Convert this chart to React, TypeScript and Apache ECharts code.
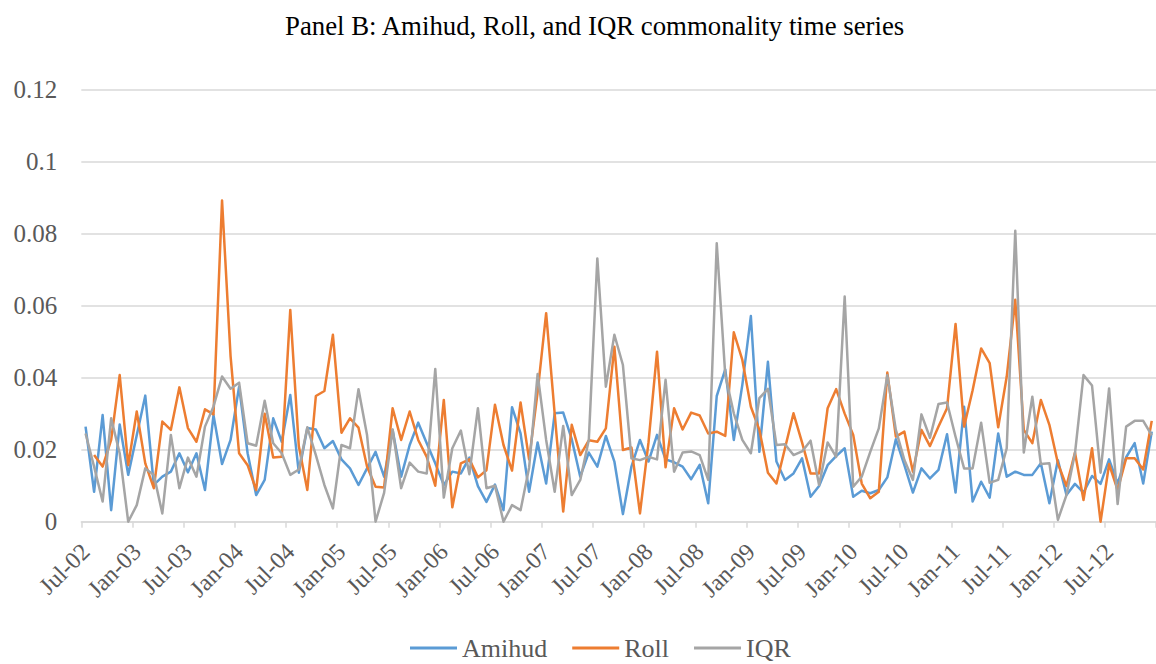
import React, { useEffect, useRef } from "react";
import * as echarts from "echarts";

const monthNames = ["Jan", "Feb", "Mar", "Apr", "May", "Jun", "Jul", "Aug", "Sep", "Oct", "Nov", "Dec"];
const categories: string[] = [];
for (let k = 0; k < 126; k++) {
  const m = (6 + k) % 12;
  const y = 2 + Math.floor((6 + k) / 12);
  categories.push(`${monthNames[m]}-${String(y).padStart(2, "0")}`);
}

const amihud = [
  0.0264, 0.0083, 0.0296, 0.0032, 0.027, 0.013, 0.024, 0.035, 0.0102, 0.0125, 0.0139, 0.019,
  0.0137, 0.019, 0.0088, 0.0296, 0.016, 0.0227, 0.0375, 0.019, 0.0074, 0.0116, 0.0287, 0.0222,
  0.0352, 0.0136, 0.026, 0.0256, 0.0204, 0.0224, 0.0173, 0.0148, 0.0102, 0.0148, 0.0194, 0.0125,
  0.0255, 0.0125, 0.0213, 0.0275, 0.0218, 0.0162, 0.0102, 0.0139, 0.0134, 0.0178, 0.0099, 0.0055,
  0.0103, 0.0032, 0.0318, 0.0245, 0.0083, 0.022, 0.0106, 0.0301, 0.0303, 0.0229, 0.0125, 0.0192,
  0.0153, 0.0238, 0.0167, 0.0021, 0.0153, 0.0227, 0.0167, 0.0241, 0.0173, 0.0165, 0.0153, 0.0118,
  0.0158, 0.0051, 0.0349, 0.0423, 0.0227, 0.038, 0.0571, 0.0194, 0.0444, 0.0167, 0.0116, 0.0134,
  0.0176, 0.0069, 0.0099, 0.0157, 0.0182, 0.0204, 0.0069, 0.0086, 0.0079, 0.0088, 0.0123, 0.0229,
  0.0157, 0.0081, 0.0148, 0.012, 0.0144, 0.0243, 0.0081, 0.0319, 0.0056, 0.0111, 0.0067, 0.0245,
  0.0125, 0.0139, 0.013, 0.013, 0.0162, 0.0051, 0.0171, 0.0074, 0.0105, 0.0081, 0.0127, 0.0105,
  0.0173, 0.0106, 0.0179, 0.0218, 0.0106, 0.025,
];

const roll: (number | null)[] = [
  null, 0.0185, 0.0153, 0.0227, 0.0407, 0.0157, 0.0306, 0.0162, 0.0093, 0.0278, 0.0255, 0.0373,
  0.026, 0.0222, 0.0312, 0.0298, 0.0892, 0.046, 0.019, 0.0157, 0.0088, 0.03, 0.0178, 0.018,
  0.0588, 0.021, 0.0088, 0.0349, 0.0363, 0.0519, 0.0247, 0.0287, 0.0261, 0.0153, 0.0097, 0.0095,
  0.0315, 0.0227, 0.0306, 0.0227, 0.018, 0.01, 0.0338, 0.004, 0.0162, 0.0173, 0.0123, 0.0143,
  0.0325, 0.0213, 0.0142, 0.0331, 0.0173, 0.036, 0.0579, 0.03, 0.0028, 0.0269, 0.0185, 0.0226,
  0.0222, 0.0259, 0.0486, 0.0199, 0.0206, 0.0023, 0.022, 0.0472, 0.0151, 0.0315, 0.0256, 0.0303,
  0.0295, 0.0245, 0.025, 0.0238, 0.0526, 0.0449, 0.0319, 0.0255, 0.0136, 0.0106, 0.0204, 0.0301,
  0.022, 0.0134, 0.0134, 0.0315, 0.0368, 0.03, 0.0241, 0.0106, 0.0065, 0.0083, 0.0414, 0.0236,
  0.025, 0.0139, 0.0255, 0.021, 0.0264, 0.0315, 0.0549, 0.0264, 0.0365, 0.0481, 0.044, 0.0262,
  0.0403, 0.0616, 0.0255, 0.0218, 0.0338, 0.0269, 0.0162, 0.0099, 0.0192, 0.006, 0.0204, 0.0,
  0.016, 0.0088, 0.0176, 0.0176, 0.0145, 0.028,
];

const iqr = [
  0.0245, 0.0153, 0.0056, 0.0287, 0.019, 0.0, 0.0046, 0.0148, 0.013, 0.0023, 0.0241, 0.0093,
  0.0178, 0.0125, 0.0264, 0.032, 0.0403, 0.0369, 0.0386, 0.0218, 0.0211, 0.0336, 0.0218, 0.019,
  0.013, 0.0145, 0.0262, 0.0185, 0.0102, 0.0037, 0.0213, 0.0204, 0.0368, 0.0241, 0.0, 0.008,
  0.0256, 0.0093, 0.0164, 0.0139, 0.0134, 0.0424, 0.0067, 0.0204, 0.0253, 0.0132, 0.0315, 0.0093,
  0.01, 0.0, 0.0046, 0.0032, 0.015, 0.041, 0.0227, 0.0083, 0.0266, 0.0074, 0.0116, 0.0227,
  0.0731, 0.0375, 0.0519, 0.0435, 0.0176, 0.0171, 0.018, 0.0173, 0.0394, 0.0139, 0.0192, 0.0195,
  0.0185, 0.0116, 0.0773, 0.0407, 0.0301, 0.0227, 0.019, 0.0343, 0.0369, 0.0213, 0.0215, 0.0185,
  0.0195, 0.0225, 0.0102, 0.022, 0.018, 0.0625, 0.0097, 0.0125, 0.0194, 0.0259, 0.0407, 0.0255,
  0.0171, 0.0116, 0.0298, 0.0233, 0.0327, 0.0331, 0.0236, 0.0148, 0.0148, 0.0275, 0.0108, 0.0116,
  0.0204, 0.0808, 0.0192, 0.0347, 0.016, 0.0162, 0.0005, 0.0074, 0.019, 0.0407, 0.0378, 0.0136,
  0.037, 0.0049, 0.0264, 0.028, 0.028, 0.024,
];

const yTicks = [0, 0.02, 0.04, 0.06, 0.08, 0.1, 0.12];

const FONT = "'Liberation Serif', 'Times New Roman', serif";
const GREY = "#595959";

export default function App() {
  const ref = useRef<HTMLDivElement>(null);
  useEffect(() => {
    if (!ref.current) return;
    const chart = echarts.init(ref.current, undefined, { renderer: "svg" });
    const mk = (name: string, data: (number | null)[], color: string) => ({
      name,
      type: "line",
      data,
      symbol: "none",
      showSymbol: false,
      connectNulls: false,
      lineStyle: { color, width: 2.5, join: "round" },
      itemStyle: { color },
    });
    chart.setOption({
      animation: false,
      backgroundColor: "#ffffff",
      title: {
        text: "Panel B: Amihud, Roll, and IQR commonality time series",
        left: 280,
        top: 7,
        textStyle: { fontFamily: FONT, fontSize: 26.8, fontWeight: "normal", color: "#000000" },
      },
      legend: {
        left: 405,
        top: 630,
        icon: "rect",
        itemWidth: 47,
        itemHeight: 3,
        itemGap: 25,
        textStyle: { fontFamily: FONT, fontSize: 26, color: GREY },
        data: ["Amihud", "Roll", "IQR"],
      },
      grid: { left: 81.3, top: 89.5, width: 126 * 8.56, height: 432.2, containLabel: false },
      xAxis: {
        type: "category",
        data: categories,
        boundaryGap: true,
        axisLine: { show: true, lineStyle: { color: "#d9d9d9", width: 1.5 } },
        axisTick: { show: true, interval: 5, length: 6, lineStyle: { color: "#d9d9d9", width: 1.5 } },
        axisLabel: {
          interval: 5,
          rotate: 45,
          margin: 26,
          color: GREY,
          fontFamily: FONT,
          fontSize: 24,
        },
        splitLine: { show: false },
      },
      yAxis: {
        type: "value",
        min: yTicks[0],
        max: yTicks[yTicks.length - 1],
        interval: 0.02,
        axisLine: { show: false },
        axisTick: { show: false },
        axisLabel: {
          margin: 24,
          color: GREY,
          fontFamily: FONT,
          fontSize: 25,
          formatter: (v: number) => String(parseFloat(v.toFixed(2))),
        },
        splitLine: { lineStyle: { color: "#d9d9d9", width: 1.5 } },
      },
      series: [mk("Amihud", amihud, "#5B9BD5"), mk("Roll", roll, "#ED7D31"), mk("IQR", iqr, "#A5A5A5")],
    });
    return () => chart.dispose();
  }, []);
  return (
    <div
      ref={ref}
      style={{ position: "absolute", left: 0, top: 0, width: 1156, height: 664, background: "#fff" }}
    />
  );
}
